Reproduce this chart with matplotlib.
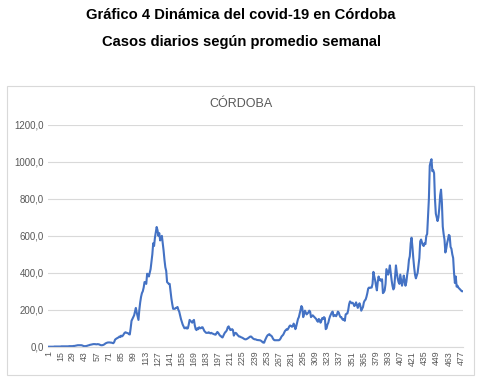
import matplotlib.pyplot as plt
from matplotlib.patches import Rectangle

# casos diarios (promedio semanal), dia 1 a 479
casos = [
    0, 0, 0, 0, 0, 0, 0, 1, 1, 1,
    1, 1, 1, 1, 1, 2, 2, 2, 2, 2,
    2, 2, 2, 2, 3, 3, 3, 3, 3, 4,
    4, 5, 6, 7, 8, 8, 8, 8, 8, 7,
    5, 3, 3, 3, 4, 5, 7, 8, 10, 11,
    12, 13, 14, 14, 14, 13, 13, 14, 13, 12,
    9, 8, 8, 9, 11, 14, 18, 20, 22, 23,
    23, 23, 22, 22, 20, 19, 25, 38, 42, 45,
    48, 50, 55, 52, 60, 56, 60, 68, 75, 78,
    76, 74, 73, 68, 66, 100, 140, 150, 160, 170,
    190, 210, 185, 165, 145, 200, 240, 270, 290, 300,
    320, 350, 345, 340, 395, 390, 380, 400, 420, 460,
    500, 560, 545, 590, 620, 648, 630, 600, 615, 575,
    590, 600, 560, 520, 470, 430, 410, 350, 345, 340,
    340, 300, 260, 230, 205, 205, 205, 210, 210, 215,
    200, 190, 170, 150, 135, 120, 110, 100, 100, 105,
    98, 100, 120, 145, 140, 135, 130, 140, 145, 115,
    95, 90, 100, 95, 105, 100, 100, 105, 105, 95,
    85, 80, 75, 75, 75, 78, 75, 72, 75, 72,
    70, 68, 66, 65, 72, 80, 75, 68, 60, 58,
    52, 50, 60, 70, 78, 82, 90, 105, 110, 100,
    90, 92, 95, 90, 60, 70, 75, 72, 65, 60,
    55, 55, 52, 50, 48, 45, 42, 40, 40, 42,
    45, 48, 52, 55, 55, 50, 45, 42, 40, 40,
    38, 36, 36, 35, 35, 33, 30, 25, 22, 22,
    35, 45, 55, 62, 65, 68, 62, 60, 55, 45,
    38, 35, 35, 35, 35, 35, 35, 38, 45, 55,
    60, 65, 75, 85, 90, 95, 92, 100, 110, 115,
    112, 108, 110, 125, 115, 95, 110, 130, 150, 160,
    180, 200, 220, 210, 160, 175, 195, 185, 175, 180,
    185, 195, 190, 160, 165, 170, 165, 160, 155, 150,
    140, 135, 150, 145, 130, 140, 155, 150, 160, 155,
    95, 100, 120, 130, 150, 165, 175, 185, 190, 165,
    170, 170, 165, 175, 190, 185, 170, 160, 160, 150,
    145, 150, 140, 175, 178, 180, 200, 230, 245, 240,
    235, 238, 232, 220, 225, 240, 225, 210, 225, 235,
    220, 195, 205, 215, 240, 250, 255, 270, 290, 315,
    320, 318, 320, 320, 340, 405, 380, 360, 330, 305,
    350, 380, 360, 365, 355, 365, 290, 295, 305, 340,
    420, 405, 390, 410, 440, 400, 360, 330, 310, 320,
    380, 440, 400, 370, 350, 340, 390, 360, 330, 350,
    385, 360, 330, 350, 390, 420, 470, 490, 560, 590,
    540, 480, 430, 390, 370, 385, 400, 440, 480, 570,
    580, 565, 550, 545, 560, 555, 600, 610, 700, 800,
    980, 1000, 1015, 950, 955, 940, 800, 720, 700, 680,
    700, 750, 820, 850, 780, 650, 610, 580, 510, 530,
    560, 580, 605, 600, 540, 530, 500, 480, 400, 345,
    380, 325, 330, 320, 315, 310, 305, 300, 300,
]
dias = list(range(1, len(casos) + 1))

x_ticks = [1, 15, 29, 43, 57, 71, 85, 99, 113, 127, 141, 155, 169, 183, 197,
           211, 225, 239, 253, 267, 281, 295, 309, 323, 337, 351, 365, 379,
           393, 407, 421, 435, 449, 463, 477]
y_ticks = [0, 200, 400, 600, 800, 1000, 1200]
y_labels = ['0,0', '200,0', '400,0', '600,0', '800,0', '1000,0', '1200,0']

plt.rcParams['font.family'] = ['Liberation Sans', 'DejaVu Sans']

fig = plt.figure(figsize=(4.82, 3.82), dpi=100)

# titulos
fig.text(0.5, 1 - 15 / 382, 'Gráfico 4 Dinámica del covid-19 en Córdoba',
         ha='center', va='center', fontsize=10.6, fontweight='bold')
fig.text(0.5, 1 - 42 / 382, 'Casos diarios según promedio semanal',
         ha='center', va='center', fontsize=10.6, fontweight='bold')

# marco del grafico (estilo excel)
fig.patches.append(Rectangle((7 / 482, 1 - 375 / 382), 467 / 482, 289 / 382,
                             transform=fig.transFigure, fill=False,
                             edgecolor='#d9d9d9', linewidth=0.8))
fig.text(0.5, 1 - 104 / 382, 'CÓRDOBA', ha='center', va='center',
         fontsize=9, color='#595959')

ax = fig.add_axes([48.3 / 482, 1 - 346.7 / 382, 414.4 / 482, 221.7 / 382])
ax.plot(dias, casos, color='#4472c4', linewidth=1.5)

ax.set_xlim(1, len(casos))
ax.set_ylim(0, 1200)
ax.set_xticks(x_ticks)
ax.set_xticklabels([str(t) for t in x_ticks], rotation=90, fontsize=6.3, color='#595959')
ax.set_yticks(y_ticks)
ax.set_yticklabels(y_labels, fontsize=7, color='#595959')
ax.tick_params(length=0, pad=3)
ax.grid(axis='y', color='#d9d9d9', linewidth=0.8)
ax.set_axisbelow(True)
for s in ['top', 'right', 'left']:
    ax.spines[s].set_visible(False)
ax.spines['bottom'].set_color('#d9d9d9')
ax.spines['bottom'].set_linewidth(0.8)

plt.savefig('out.png', dpi=100)
